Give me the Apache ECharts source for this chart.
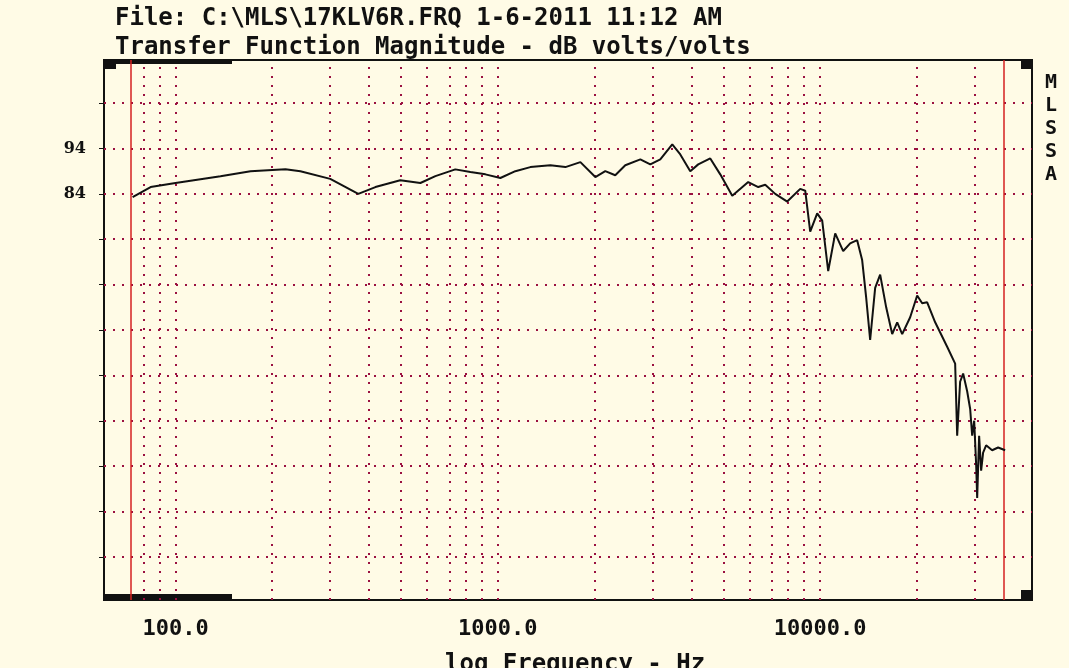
<!DOCTYPE html>
<html>
<head>
<meta charset="utf-8">
<script src="https://cdn.jsdelivr.net/npm/echarts@6/dist/echarts.min.js"></script>
<style>
  html, body { margin: 0; padding: 0; background: #fffbe6; }
  #chart { width: 1069px; height: 668px; }
</style>
</head>
<body>
<div id="chart"></div>
<script>
// measured response, Hz / dB
const freqHz = [73.6, 83.7, 100, 137.9, 170.9, 219.3, 244, 302, 369, 417, 498, 575, 640, 738, 822, 915,
  1018, 1133, 1261, 1455, 1620, 1803, 2006, 2154, 2313, 2485, 2767, 2971, 3191, 3476, 3681, 3953,
  4184, 4560, 4897, 5335, 5980, 6425, 6753, 7252, 7903, 8670, 8986, 9311, 9788, 10144, 10588, 11131,
  11785, 12388, 13020, 13494, 13885, 14288, 14808, 15346, 16021, 16723, 17332, 17963, 19016, 19991,
  20717, 21471, 22732, 24766, 26220, 26600, 27170, 27760, 28570, 29190, 29610, 30040, 30470, 30690,
  31120, 31570, 32020, 32710, 34150, 35640, 37470];
const magDb = [83.3, 85.5, 86.4, 87.9, 89.0, 89.4, 89.0, 87.3, 84.0, 85.5, 87.0, 86.4, 87.9, 89.4, 88.8, 88.3,
  87.5, 89.0, 89.9, 90.3, 89.9, 91.0, 87.7, 89.0, 88.1, 90.3, 91.6, 90.5, 91.6, 94.9, 92.7, 89.0,
  90.5, 91.8, 88.3, 83.6, 86.6, 85.5, 86.0, 84.0, 82.3, 85.1, 84.7, 75.7, 79.7, 78.1, 67.0, 75.3,
  71.4, 73.1, 73.8, 69.4, 61.2, 51.8, 63.3, 66.2, 59.0, 53.1, 55.7, 53.1, 56.8, 61.6,
  59.9, 60.1, 55.7, 50.3, 46.6, 30.7, 42.6, 44.4, 40.5, 36.6, 30.7, 34.0, 24.2, 17.0,
  30.7, 23.0, 27.0, 28.6, 27.5, 28.1, 27.5];

const gridFreqs = [80, 90, 100, 200, 300, 400, 500, 600, 700, 800, 900, 1000, 2000, 3000, 4000,
  5000, 6000, 7000, 8000, 9000, 10000, 20000, 30000];
const gridDb = [104, 94, 84, 74, 64, 54, 44, 34, 24, 14, 4];
const freqLabels = [100, 1000, 10000];
const dbLabels = [84, 94];
const markerFreqs = [72, 37500];

const lg = Math.log10;
const dotted = { color: '#9a1040', width: 2, type: [2, 7] };

const chart = echarts.init(document.getElementById('chart'));
chart.setOption({
  backgroundColor: '#fffbe6',
  animation: false,
  title: [
    { text: 'File: C:\\MLS\\17KLV6R.FRQ 1-6-2011 11:12 AM', left: 110, top: 2,
      textStyle: { fontFamily: 'DejaVu Sans Mono', fontWeight: 'bold', fontSize: 24, color: '#111' } },
    { text: 'Transfer Function Magnitude - dB volts/volts', left: 110, top: 31,
      textStyle: { fontFamily: 'DejaVu Sans Mono', fontWeight: 'bold', fontSize: 24, color: '#111' } },
    { text: 'M\nL\nS\nS\nA', left: 1040, top: 66,
      textStyle: { fontFamily: 'DejaVu Sans Mono', fontWeight: 'bold', fontSize: 20, lineHeight: 23, color: '#111' } },
    { text: 'log Frequency - Hz', left: 440, top: 648,
      textStyle: { fontFamily: 'DejaVu Sans Mono', fontWeight: 'bold', fontSize: 24, color: '#111' } }
  ],
  grid: { left: 104, right: 37, top: 60, bottom: 68, show: true, borderColor: '#111', borderWidth: 2 },
  xAxis: {
    type: 'value', min: lg(60), max: lg(45400),
    splitLine: { show: false },
    axisLine: { show: false }, axisTick: { show: false },
    axisLabel: {
      customValues: freqLabels.map(lg), margin: 18,
      formatter: v => Math.pow(10, v).toFixed(1),
      fontFamily: 'DejaVu Sans Mono', fontWeight: 'bold', fontSize: 22, color: '#111'
    }
  },
  yAxis: {
    type: 'value', min: -5.5, max: 113.5,
    splitLine: { show: false },
    axisLine: { show: false },
    axisTick: { show: true, customValues: gridDb, length: 5, lineStyle: { color: '#111' } },
    axisLabel: {
      customValues: dbLabels, margin: 18,
      fontFamily: 'DejaVu Serif', fontWeight: 'bold', fontSize: 16, color: '#111'
    }
  },
  graphic: [
    { type: 'rect', shape: { x: 104, y: 59, width: 128, height: 5 }, style: { fill: '#111' } },
    { type: 'rect', shape: { x: 104, y: 594, width: 128, height: 5 }, style: { fill: '#111' } },
    { type: 'rect', shape: { x: 104, y: 59, width: 12, height: 10 }, style: { fill: '#111' } },
    { type: 'rect', shape: { x: 1021, y: 59, width: 12, height: 10 }, style: { fill: '#111' } },
    { type: 'rect', shape: { x: 1021, y: 590, width: 12, height: 10 }, style: { fill: '#111' } }
  ],
  series: [{
    type: 'line',
    data: freqHz.map((f, i) => [lg(f), magDb[i]]),
    symbol: 'none',
    lineStyle: { color: '#111', width: 2 },
    z: 5,
    markLine: {
      silent: true, symbol: 'none', label: { show: false },
      lineStyle: dotted,
      data: [
        ...gridFreqs.map(f => ({ xAxis: lg(f) })),
        ...gridDb.map(d => ({ yAxis: d })),
        ...markerFreqs.map(f => ({ xAxis: lg(f), lineStyle: { color: '#d42020', width: 1.5, type: 'solid' } }))
      ]
    }
  }]
});
</script>
</body>
</html>
